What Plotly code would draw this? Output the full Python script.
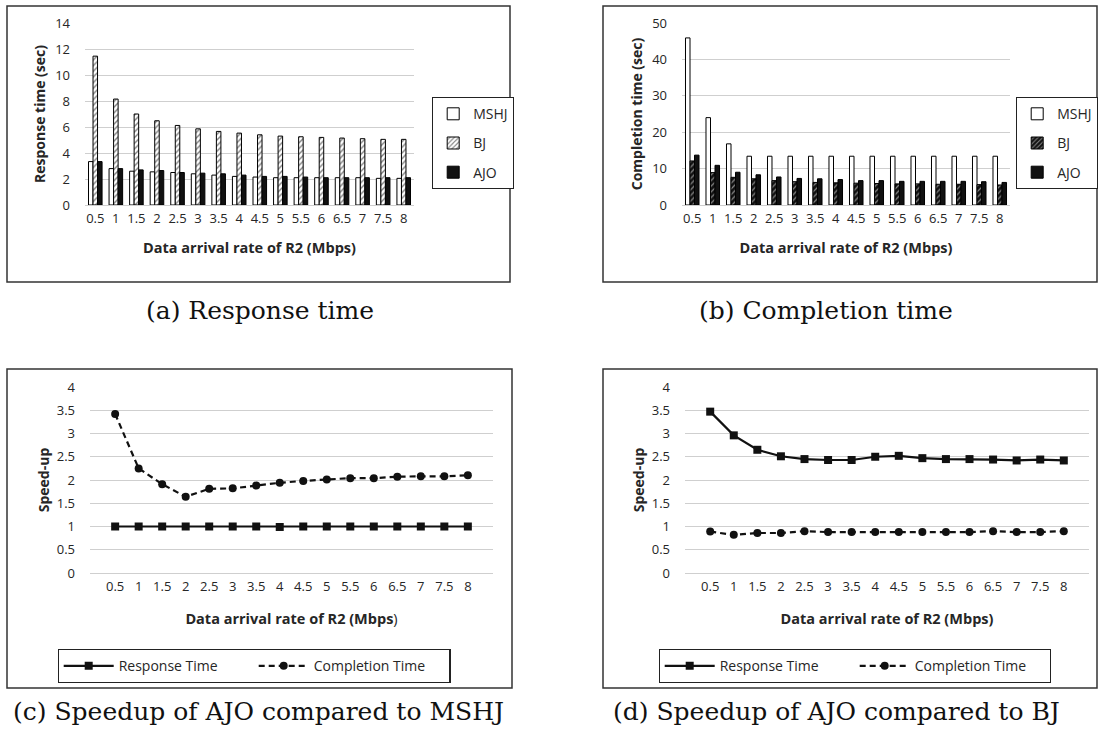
import plotly.graph_objects as go

W, H = 1099, 735

rates = ["0.5", "1", "1.5", "2", "2.5", "3", "3.5", "4", "4.5", "5", "5.5", "6", "6.5", "7", "7.5", "8"]

# (a) Response time (sec)
resp_mshj = [3.34, 2.8, 2.6, 2.55, 2.5, 2.4, 2.3, 2.2, 2.15, 2.1, 2.1, 2.1, 2.1, 2.1, 2.05, 2.05]
resp_bj = [11.45, 8.15, 7.0, 6.48, 6.12, 5.86, 5.66, 5.53, 5.4, 5.3, 5.25, 5.2, 5.15, 5.1, 5.05, 5.05]
resp_ajo = [3.34, 2.8, 2.7, 2.65, 2.5, 2.45, 2.4, 2.3, 2.2, 2.2, 2.15, 2.1, 2.1, 2.1, 2.1, 2.1]

# (b) Completion time (sec)
comp_mshj = [45.9, 24.0, 16.8, 13.4, 13.4, 13.4, 13.4, 13.4, 13.4, 13.4, 13.4, 13.4, 13.4, 13.4, 13.4, 13.4]
comp_bj = [12.1, 8.9, 7.6, 7.2, 6.7, 6.4, 6.2, 6.1, 6.0, 5.9, 5.8, 5.8, 5.7, 5.7, 5.6, 5.5]
comp_ajo = [13.7, 10.9, 9.0, 8.3, 7.7, 7.3, 7.2, 7.0, 6.7, 6.7, 6.5, 6.5, 6.5, 6.5, 6.4, 6.2]

# (c) Speed-up of AJO compared to MSHJ
su_mshj_resp = [1.0, 1.0, 1.0, 1.0, 1.0, 1.0, 1.0, 0.99, 1.0, 1.0, 1.0, 1.0, 1.0, 1.0, 1.0, 1.0]
su_mshj_comp = [3.42, 2.25, 1.91, 1.64, 1.81, 1.82, 1.88, 1.94, 1.98, 2.01, 2.04, 2.04, 2.07, 2.08, 2.08, 2.1]

# (d) Speed-up of AJO compared to BJ
su_bj_resp = [3.47, 2.96, 2.65, 2.51, 2.45, 2.43, 2.43, 2.5, 2.52, 2.47, 2.45, 2.45, 2.44, 2.42, 2.44, 2.42]
su_bj_comp = [0.89, 0.82, 0.86, 0.86, 0.9, 0.88, 0.88, 0.88, 0.88, 0.88, 0.88, 0.88, 0.9, 0.88, 0.88, 0.9]

FONT = "Open Sans"
TXT = "#262626"
GRID = "#cfcfcf"
DASH = "6px,4px"


def px(x):
    return x / W


def py(y):
    return 1 - y / H


fig = go.Figure()

# ---- (a) bars
fig.add_trace(go.Bar(x=rates, y=resp_mshj, name="MSHJ", marker=dict(color="white", line=dict(color="black", width=1)),
                     xaxis="x", yaxis="y", legend="legend", legendgroup="a1"))
fig.add_trace(go.Bar(x=rates, y=resp_bj, name="BJ",
                     marker=dict(color="white", line=dict(color="black", width=1),
                                 pattern=dict(shape="/", fgcolor="black", size=4, solidity=0.35, fillmode="overlay")),
                     xaxis="x", yaxis="y", legend="legend", legendgroup="a2"))
fig.add_trace(go.Bar(x=rates, y=resp_ajo, name="AJO", marker=dict(color="#111111", line=dict(color="black", width=1)),
                     xaxis="x", yaxis="y", legend="legend", legendgroup="a3"))

# ---- (b) bars
fig.add_trace(go.Bar(x=rates, y=comp_mshj, name="MSHJ", marker=dict(color="white", line=dict(color="black", width=1)),
                     xaxis="x2", yaxis="y2", legend="legend2", legendgroup="b1"))
fig.add_trace(go.Bar(x=rates, y=comp_bj, name="BJ",
                     marker=dict(color="#111111", line=dict(color="black", width=1),
                                 pattern=dict(shape="/", fgcolor="white", size=4, solidity=0.3, fillmode="overlay")),
                     xaxis="x2", yaxis="y2", legend="legend2", legendgroup="b2"))
fig.add_trace(go.Bar(x=rates, y=comp_ajo, name="AJO", marker=dict(color="#111111", line=dict(color="black", width=1)),
                     xaxis="x2", yaxis="y2", legend="legend2", legendgroup="b3"))

# ---- (c) lines
fig.add_trace(go.Scatter(x=rates, y=su_mshj_resp, name="Response Time", mode="lines+markers",
                         line=dict(color="#111111", width=2.2), marker=dict(symbol="square", size=8, color="#111111"),
                         xaxis="x3", yaxis="y3", legend="legend3"))
fig.add_trace(go.Scatter(x=rates, y=su_mshj_comp, name="Completion Time", mode="lines+markers",
                         line=dict(color="#111111", width=2.2, dash=DASH), marker=dict(symbol="circle", size=8, color="#111111"),
                         xaxis="x3", yaxis="y3", legend="legend3"))

# ---- (d) lines
fig.add_trace(go.Scatter(x=rates, y=su_bj_resp, name="Response Time", mode="lines+markers",
                         line=dict(color="#111111", width=2.2), marker=dict(symbol="square", size=8, color="#111111"),
                         xaxis="x4", yaxis="y4", legend="legend4"))
fig.add_trace(go.Scatter(x=rates, y=su_bj_comp, name="Completion Time", mode="lines+markers",
                         line=dict(color="#111111", width=2.2, dash=DASH), marker=dict(symbol="circle", size=8, color="#111111"),
                         xaxis="x4", yaxis="y4", legend="legend4"))

tickfont = dict(family=FONT, size=13, color=TXT)
xtitlefont = dict(family=FONT, size=14.5, color=TXT, weight="bold")
ytitlefont = dict(family=FONT, size=14, color=TXT, weight="bold")


def xaxis(domain, anchor, title, standoff):
    return dict(domain=domain, anchor=anchor, type="category", tickangle=0, tickfont=tickfont,
                showgrid=False, showline=True, linecolor=GRID, linewidth=1, ticks="",
                ticklabelstandoff=1,
                title=dict(text=title, font=xtitlefont, standoff=standoff), fixedrange=True)


def yaxis(domain, anchor, rng, dtick, title, standoff):
    return dict(domain=domain, anchor=anchor, range=rng, dtick=dtick, tickfont=tickfont,
                showgrid=True, gridcolor=GRID, gridwidth=1, zeroline=False, showline=False, ticks="",
                ticklabelstandoff=14,
                title=dict(text=title, font=ytitlefont, standoff=standoff), fixedrange=True)


xt = "Data arrival rate of R2 (Mbps)"
top_dom = [py(205), py(23)]
bot_dom = [py(573), py(387)]

legend_common = dict(bgcolor="white", bordercolor="#222222", borderwidth=1.2,
                     font=dict(family=FONT, size=14, color=TXT))

fig.update_layout(
    width=W, height=H,
    margin=dict(l=0, r=0, t=0, b=0, autoexpand=False),
    paper_bgcolor="white", plot_bgcolor="white",
    barmode="group", bargap=0.34, bargroupgap=0,
    showlegend=True,
    xaxis=xaxis([px(85), px(414)], "y", xt, 17),
    yaxis=yaxis(top_dom, "x", [0, 14], 2, "Response time (sec)", 6),
    xaxis2=xaxis([px(682), px(1010)], "y2", xt, 17),
    yaxis2=yaxis(top_dom, "x2", [0, 50], 10, "Completion time (sec)", 6),
    xaxis3=xaxis([px(90), px(493)], "y3", "<b>Data arrival rate of R2 (Mbps</b><span style='font-weight:normal'>)</span>", 20),
    yaxis3=yaxis(bot_dom, "x3", [0, 4], 0.5, "Speed-up", 3),
    xaxis4=xaxis([px(685), px(1089)], "y4", xt, 20),
    yaxis4=yaxis(bot_dom, "x4", [0, 4], 0.5, "Speed-up", 3),
    legend=dict(**legend_common, x=px(432), y=py(97), xanchor="left", yanchor="top",
                orientation="v", tracegroupgap=8, itemwidth=30),
    legend2=dict(**legend_common, x=px(1098), y=py(97), xanchor="right", yanchor="top",
                 orientation="v", tracegroupgap=8, itemwidth=30),
    legend3=dict(**legend_common, x=px(254), y=py(649), xanchor="center", yanchor="top",
                 orientation="h", itemwidth=50, entrywidth=130),
    legend4=dict(**legend_common, x=px(855), y=py(649), xanchor="center", yanchor="top",
                 orientation="h", itemwidth=50, entrywidth=130),
)

# panel frames
frames = [(7, 6, 510, 282), (603, 6, 1097, 282), (7, 369, 512, 688), (603, 369, 1097, 688)]
for (x0, y0, x1, y1) in frames:
    fig.add_shape(type="rect", xref="paper", yref="paper", x0=px(x0), x1=px(x1), y0=py(y1), y1=py(y0),
                  line=dict(color="#333333", width=1.5), fillcolor="rgba(0,0,0,0)", layer="below")

captions = [("(a) Response time", 260, 310), ("(b) Completion time", 826, 310),
            ("(c) Speedup of AJO compared to MSHJ", 258, 711), ("(d) Speedup of AJO compared to BJ", 836, 711)]
for text, cx, cy in captions:
    fig.add_annotation(text=text, xref="paper", yref="paper", x=px(cx), y=py(cy), showarrow=False,
                       xanchor="center", yanchor="middle",
                       font=dict(family="DejaVu Serif", size=25, color="#111111"))

fig.write_html("out.html", config={"displayModeBar": False},
               post_script="document.body.style.margin='0';")
